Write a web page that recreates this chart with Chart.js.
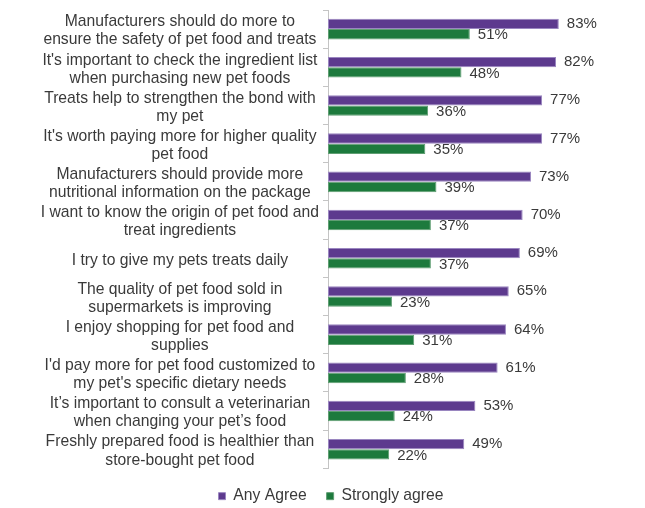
<!DOCTYPE html>
<html>
<head>
<meta charset="utf-8">
<script src="https://cdn.jsdelivr.net/npm/chart.js@4/dist/chart.umd.min.js"></script>
<style>
  html, body { margin: 0; padding: 0; background: #fff; }
  #wrap { width: 645px; height: 508px; }
</style>
</head>
<body>
<div id="wrap"><canvas id="chart"></canvas></div>
<script>
// ── Data ─────────────────────────────────────────────────────────────────────

const CATEGORIES = [
    ['Manufacturers should do more to', 'ensure the safety of pet food and treats'],
    ["It's important to check the ingredient list", 'when purchasing new pet foods'],
    ['Treats help to strengthen the bond with', 'my pet'],
    ["It's worth paying more for higher quality", 'pet food'],
    ['Manufacturers should provide more', 'nutritional information on the package'],
    ['I want to know the origin of pet food and', 'treat ingredients'],
    ['I try to give my pets treats daily'],
    ['The quality of pet food sold in', 'supermarkets is improving'],
    ['I enjoy shopping for pet food and', 'supplies'],
    ["I'd pay more for pet food customized to", "my pet's specific dietary needs"],
    ['It\u2019s important to consult a veterinarian', 'when changing your pet\u2019s food'],
    ['Freshly prepared food is healthier than', 'store-bought pet food']
];

const ANY_AGREE      = [83, 82, 77, 77, 73, 70, 69, 65, 64, 61, 53, 49];
const STRONGLY_AGREE = [51, 48, 36, 35, 39, 37, 37, 23, 31, 28, 24, 22];

const SERIES_NAMES = ['Any Agree', 'Strongly agree'];

// ── Styles ───────────────────────────────────────────────────────────────────

const PURPLE = '#5d3a8e';
const GREEN = '#1d7a3d';
const TEXT_COLOR = '#3a3a3a';
const AXIS_COLOR = '#c4c4c4';
const FONT_FAMILY = '"Liberation Sans", Arial, sans-serif';
const LABEL_FONT = { size: 15.7, family: FONT_FAMILY, lineHeight: 1.15 };

// draws "83%" style labels just past the end of each bar
const valueLabels = {
    id: 'valueLabels',
    afterDatasetsDraw(chart) {
        const ctx = chart.ctx;
        ctx.save();
        ctx.font = '15px ' + FONT_FAMILY;
        ctx.fillStyle = TEXT_COLOR;
        ctx.textAlign = 'left';
        ctx.textBaseline = 'middle';
        chart.data.datasets.forEach((ds, di) => {
            chart.getDatasetMeta(di).data.forEach((bar, i) => {
                const dy = di === 0 ? 0 : 1;
                ctx.fillText(ds.data[i] + '%', bar.x + 8, bar.y + dy);
            });
        });
        ctx.restore();
    }
};

new Chart(document.getElementById('chart'), {
    type: 'bar',
    data: {
        labels: CATEGORIES,
        datasets: [
            {
                label: SERIES_NAMES[0],
                data: ANY_AGREE,
                backgroundColor: PURPLE,
                borderColor: '#9a86c0',
                borderWidth: 1,
                borderSkipped: false,
                categoryPercentage: 0.54,
                barPercentage: 1.0
            },
            {
                label: SERIES_NAMES[1],
                data: STRONGLY_AGREE,
                backgroundColor: GREEN,
                borderColor: '#5f9e72',
                borderWidth: 1,
                borderSkipped: false,
                categoryPercentage: 0.54,
                barPercentage: 1.0
            }
        ]
    },
    options: {
        indexAxis: 'y',
        responsive: true,
        maintainAspectRatio: false,
        animation: false,
        layout: { padding: { top: 10, right: 0, left: 17, bottom: -6 } },
        plugins: {
            legend: {
                position: 'bottom',
                labels: {
                    boxWidth: 7,
                    boxHeight: 7,
                    padding: 20,
                    color: TEXT_COLOR,
                    font: { size: 15.7, family: FONT_FAMILY }
                }
            },
            tooltip: { enabled: false }
        },
        scales: {
            x: {
                display: false,
                min: 0,
                max: 114
            },
            y: {
                afterFit: s => {
                    s.width = 311;
                    s.paddingTop = 0;
                    s.paddingBottom = 0;
                },
                border: { display: true, color: AXIS_COLOR },
                grid: {
                    drawOnChartArea: false,
                    drawTicks: true,
                    tickLength: 5,
                    color: AXIS_COLOR
                },
                ticks: {
                    crossAlign: 'center',
                    padding: 4,
                    labelOffset: 2,
                    color: TEXT_COLOR,
                    font: LABEL_FONT,
                    autoSkip: false
                }
            }
        }
    },
    plugins: [valueLabels]
});
</script>
</body>
</html>
